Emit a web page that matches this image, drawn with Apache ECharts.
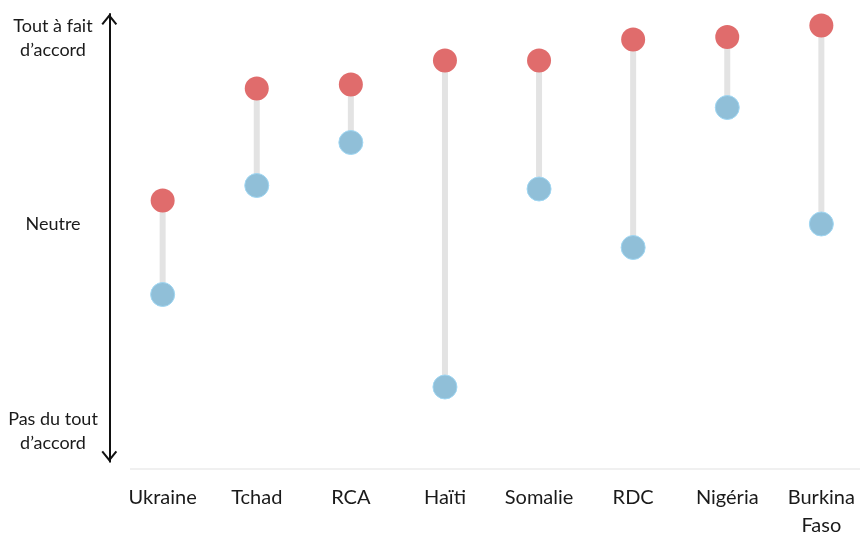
<!DOCTYPE html>
<html>
<head>
<meta charset="utf-8">
<style>
  html, body { margin: 0; padding: 0; background: #ffffff; }
  #chart { width: 860px; height: 536px; }
</style>
<script src="https://cdn.jsdelivr.net/npm/echarts@6/dist/echarts.min.js"></script>
</head>
<body>
<div id="chart"></div>
<script>
// Countries shown along the horizontal axis
const categories = ['Ukraine', 'Tchad', 'RCA', 'Haïti', 'Somalie', 'RDC', 'Nigéria', 'Burkina\nFaso'];

// Mean agreement on a 1 (Pas du tout d'accord) to 5 (Tout à fait d'accord) scale
const redValues  = [3.24, 4.36, 4.40, 4.64, 4.64, 4.85, 4.875, 4.99];
const blueValues = [2.30, 3.39, 3.82, 1.375, 3.355, 2.77, 4.17, 3.005];

// Scale points that carry a text label
const yTickValues = [5, 3, 1];
const yTickLabels = ['Tout à fait\nd’accord', 'Neutre', 'Pas du tout\nd’accord'];

const FONT = 'Lato';
const TEXT = '#1a1a1a';

// Open chevron used for both ends of the vertical arrow
const chevron = 'path://M8,0 L16,10 L14.4,11.2 L8,3.2 L1.6,11.2 L0,10 Z';

// Small spacer lines nudge the multi-line scale labels into place
const labelGap = { 5: 27, 1: 13 };

const chart = echarts.init(document.getElementById('chart'));

chart.setOption({
  animation: false,
  grid: {
    left: 115.6,
    right: -8.4,
    top: 14,
    bottom: 74.3,
    outerBoundsMode: 'none'
  },
  xAxis: {
    type: 'category',
    data: categories,
    axisLine: { show: false },
    axisTick: { show: false },
    splitLine: { show: false },
    axisLabel: {
      interval: 0,
      margin: 22.3,
      fontFamily: FONT,
      fontSize: 20,
      lineHeight: 28,
      color: TEXT
    }
  },
  yAxis: {
    type: 'value',
    min: 0.628,
    max: 5.105,
    offset: 6.3,
    splitLine: { show: false },
    axisTick: { show: false },
    axisLine: {
      show: true,
      symbol: [chevron, chevron],
      symbolSize: [16, 11],
      symbolOffset: [5.5, -5.5],
      lineStyle: { color: '#111111', width: 2 }
    },
    axisLabel: {
      customValues: yTickValues,
      align: 'center',
      margin: 56.3,
      color: TEXT,
      fontFamily: FONT,
      fontSize: 18,
      formatter: function (v) {
        const idx = yTickValues.indexOf(v);
        if (idx < 0) return '';
        const lines = yTickLabels[idx].split('\n').map(function (s) { return '{t|' + s + '}'; });
        const gap = labelGap[v];
        if (gap) lines.unshift('{g' + v + '|\u00a0}');
        return lines.join('\n');
      },
      rich: {
        t: { fontFamily: FONT, fontSize: 18, lineHeight: 24, color: TEXT, align: 'center' },
        g5: { fontSize: 4, lineHeight: 27 },
        g1: { fontSize: 4, lineHeight: 13 }
      }
    }
  },
  graphic: [{
    type: 'line',
    shape: { x1: 130, y1: 469, x2: 860, y2: 469 },
    style: { stroke: '#ebebeb', lineWidth: 1.5 },
    silent: true
  }],
  series: [
    {
      // Grey connector between the two values of each country
      type: 'custom',
      z: 1,
      silent: true,
      encode: { x: 0, y: [1, 2] },
      data: categories.map(function (c, i) { return [i, blueValues[i], redValues[i]]; }),
      renderItem: function (params, api) {
        const lo = api.coord([api.value(0), api.value(1)]);
        const hi = api.coord([api.value(0), api.value(2)]);
        return {
          type: 'line',
          shape: { x1: lo[0], y1: lo[1], x2: hi[0], y2: hi[1] },
          style: { stroke: '#e3e3e3', lineWidth: 6 }
        };
      }
    },
    {
      type: 'scatter',
      z: 3,
      symbolSize: 24,
      data: blueValues,
      itemStyle: { color: '#90bfd8', borderColor: '#9fd6f2', borderWidth: 1, opacity: 1 },
      emphasis: { disabled: true }
    },
    {
      type: 'scatter',
      z: 3,
      symbolSize: 24,
      data: redValues,
      itemStyle: { color: '#e06c6c', opacity: 1 },
      emphasis: { disabled: true }
    }
  ]
});
</script>
</body>
</html>
